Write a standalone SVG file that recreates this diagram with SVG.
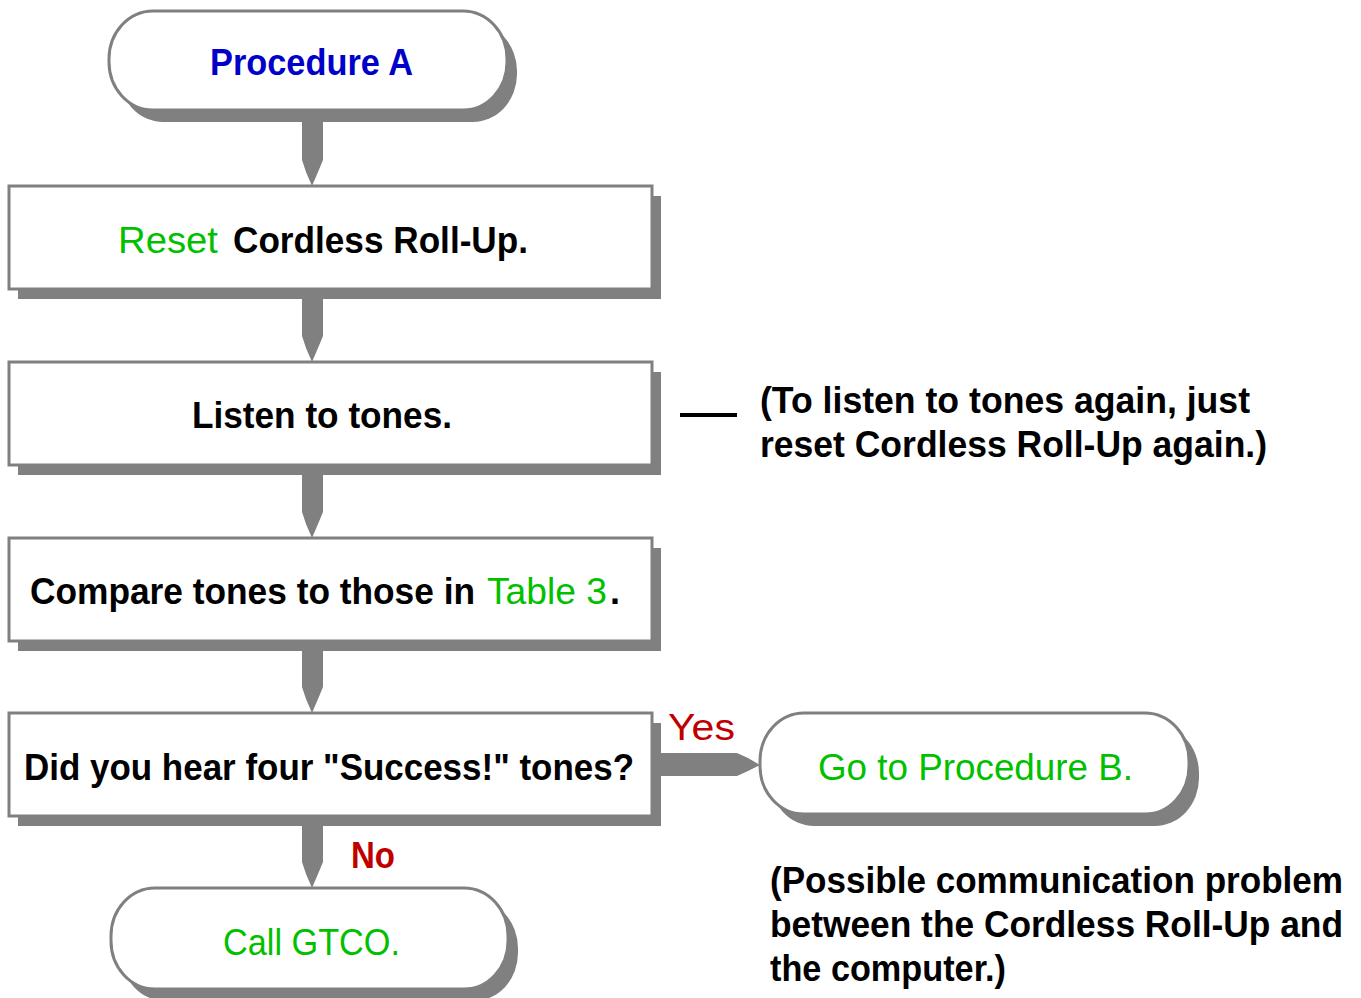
<svg xmlns="http://www.w3.org/2000/svg" width="1361" height="998" viewBox="0 0 1361 998">
<style>
.sh{fill:#808080}
.bx{fill:#ffffff;stroke:#808080;stroke-width:3}
.con{fill:#808080}
text{font-family:"Liberation Sans",Arial,sans-serif;font-size:36px}
.b{font-weight:bold}
.blk{fill:#000000}
.blue{fill:#0000C8}
.grn{fill:#00C000}
.red{fill:#C00000}
</style>
<rect width="1361" height="998" fill="#ffffff"/>

<g id="connectors">
  <polygon class="con" points="302,110 323,110 323,160 318,172 312,186 306,172 302,160"/>
  <polygon class="con" points="302,290 323,290 323,336 318,348 312,362 306,348 302,336"/>
  <polygon class="con" points="302,466 323,466 323,512 318,524 312,538 306,524 302,512"/>
  <polygon class="con" points="302,642 323,642 323,687 318,699 312,713 306,699 302,687"/>
  <polygon class="con" points="302,816 323,816 323,862 318,874 312,888 306,874 302,862"/>
  <polygon class="con" points="652,753 737,753 748,758 760,765 748,771 737,776 652,776"/>
  <line x1="680" y1="415" x2="737" y2="415" stroke="#000000" stroke-width="4"/>
  <text class="red" x="668" y="740" textLength="67" lengthAdjust="spacingAndGlyphs">Yes</text>
  <text class="red b" x="351" y="868" textLength="44" lengthAdjust="spacingAndGlyphs">No</text>
</g>

<g id="start">
  <rect class="sh" x="119" y="23" width="398" height="99" rx="44" ry="48"/>
  <rect class="bx" x="109" y="11" width="398" height="99" rx="44" ry="48"/>
  <text class="blue b" x="210" y="75" textLength="203" lengthAdjust="spacingAndGlyphs">Procedure A</text>
</g>

<g id="reset">
  <rect class="sh" x="18" y="196" width="643" height="103"/>
  <rect class="bx" x="9" y="186" width="643" height="103"/>
  <text class="grn" x="118" y="253" textLength="100" lengthAdjust="spacingAndGlyphs">Reset</text>
  <text class="blk b" x="233" y="253" textLength="295" lengthAdjust="spacingAndGlyphs">Cordless Roll-Up.</text>
</g>

<g id="listen">
  <rect class="sh" x="18" y="372" width="643" height="103"/>
  <rect class="bx" x="9" y="362" width="643" height="103"/>
  <text class="blk b" x="192" y="428" textLength="260" lengthAdjust="spacingAndGlyphs">Listen to tones.</text>
</g>

<g id="compare">
  <rect class="sh" x="18" y="548" width="643" height="103"/>
  <rect class="bx" x="9" y="538" width="643" height="103"/>
  <text class="blk b" x="30" y="604" textLength="445" lengthAdjust="spacingAndGlyphs">Compare tones to those in</text>
  <text class="grn" x="487" y="604" textLength="120" lengthAdjust="spacingAndGlyphs">Table 3</text>
  <text class="blk b" x="610" y="604">.</text>
</g>

<g id="decision">
  <rect class="sh" x="18" y="723" width="643" height="103"/>
  <rect class="bx" x="9" y="713" width="643" height="103"/>
  <text class="blk b" x="24" y="780" textLength="610" lengthAdjust="spacingAndGlyphs">Did you hear four "Success!" tones?</text>
</g>

<g id="procB">
  <rect class="sh" x="770" y="725" width="429" height="101" rx="44" ry="48"/>
  <rect class="bx" x="760" y="713" width="429" height="101" rx="44" ry="48"/>
  <text class="grn" x="818" y="780" textLength="315" lengthAdjust="spacingAndGlyphs">Go to Procedure B.</text>
</g>

<g id="callGTCO">
  <rect class="sh" x="121" y="900" width="397" height="101" rx="44" ry="48"/>
  <rect class="bx" x="111" y="888" width="397" height="101" rx="44" ry="48"/>
  <text class="grn" x="223" y="955" textLength="177" lengthAdjust="spacingAndGlyphs">Call GTCO.</text>
</g>

<g id="note1">
  <text class="blk b" x="760" y="413" textLength="490" lengthAdjust="spacingAndGlyphs">(To listen to tones again, just</text>
  <text class="blk b" x="760" y="457" textLength="507" lengthAdjust="spacingAndGlyphs">reset Cordless Roll-Up again.)</text>
</g>

<g id="note2">
  <text class="blk b" x="770" y="893" textLength="573" lengthAdjust="spacingAndGlyphs">(Possible communication problem</text>
  <text class="blk b" x="770" y="937" textLength="573" lengthAdjust="spacingAndGlyphs">between the Cordless Roll-Up and</text>
  <text class="blk b" x="770" y="981" textLength="236" lengthAdjust="spacingAndGlyphs">the computer.)</text>
</g>
</svg>
